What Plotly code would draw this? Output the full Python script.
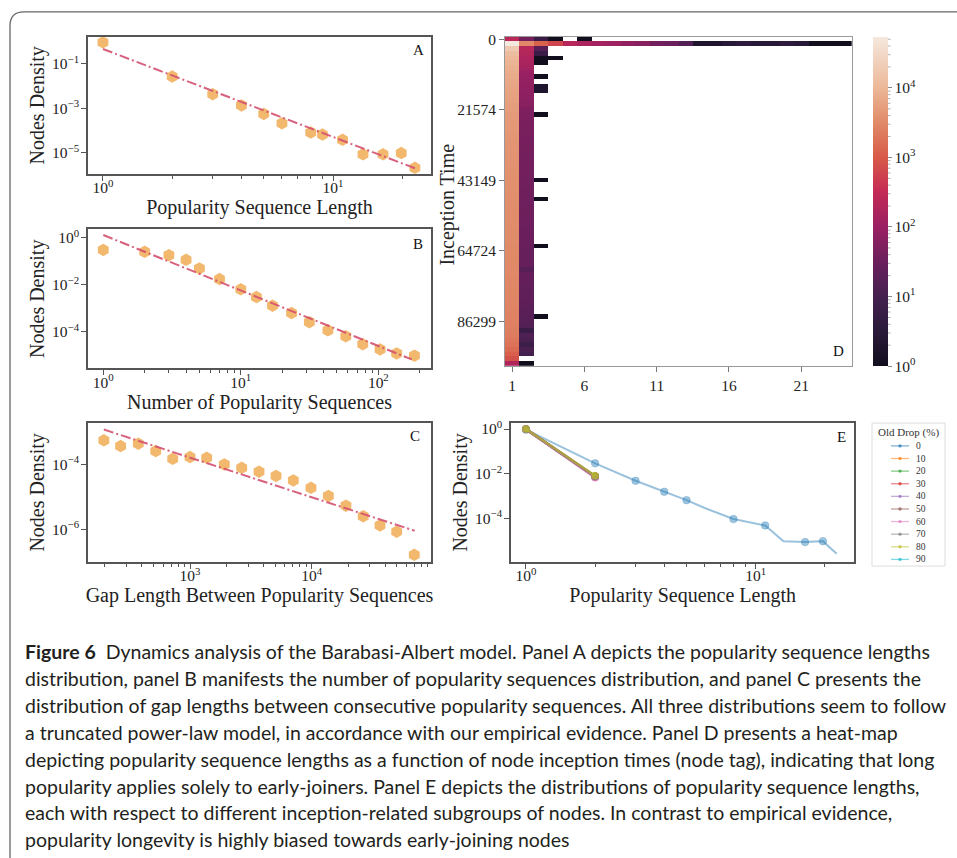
import numpy as np
import plotly.graph_objects as go

W, H = 957, 858
SERIF = "Liberation Serif"
SANS = "Lato"

# ---------------- data ----------------
# Panel A: popularity sequence length distribution
a_length = [1, 2, 3, 4, 5, 6, 8, 9, 11, 13.5, 16.5, 19.8, 22.7]
a_density = [0.93, 0.027, 0.0043, 0.00135, 5.6e-4, 2.1e-4, 8.1e-5, 6.6e-5, 3.8e-5, 8.5e-6, 8.5e-6, 9.7e-6, 2.1e-6]
a_fit_x = [1, 22.7]
a_fit_y = [0.47, 2.0e-6]

# Panel B: number of popularity sequences distribution
b_number = [1, 2, 3, 4, 5, 7, 10, 13, 17, 23.4, 31.5, 43, 58, 77, 103, 136, 183]
b_density = [0.30, 0.25, 0.18, 0.114, 0.049, 0.0175, 0.0064, 0.003, 0.0013, 6.3e-4, 2.6e-4,
             1.17e-4, 6.5e-5, 3.0e-5, 1.8e-5, 1.22e-5, 9.8e-6]
b_fit_x = [1, 175]
b_fit_y = [1.29, 6.8e-6]

# Panel C: gap length between popularity sequences
c_gap = [196, 269, 376, 523, 721, 1000, 1371, 1914, 2660, 3690, 5090, 7060, 9860, 13700,
         19100, 26500, 36400, 49900, 69600]
c_density = [5.6e-4, 3.7e-4, 4.4e-4, 2.6e-4, 1.5e-4, 1.7e-4, 1.6e-4, 1.0e-4, 7.9e-5, 6.0e-5,
             4.4e-5, 3.2e-5, 1.9e-5, 1.06e-5, 5.3e-6, 2.5e-6, 1.3e-6, 8.3e-7, 1.6e-7]
c_fit_x = [196, 70100]
c_fit_y = [1.2e-3, 8.9e-7]

# Panel D: heat-map (rows = inception-time bins, columns = popularity sequence length)
d_columns = list(range(1, 25))
d_row_labels = ["0", "21574", "43149", "64724", "86299"]
d_row_label_pos = [0, 15, 30, 45, 60]
d_col1 = [250, 53000, 18000, 12000, 10000, 9000, 8200, 7600, 7000, 6600,
          6200, 5900, 5600, 5400, 5200, 5000, 4800, 4600, 4500, 4400,
          4300, 4200, 4100, 4000, 3950, 3900, 3850, 3800, 3750, 3700,
          3650, 3600, 3550, 3500, 3480, 3450, 3420, 3400, 3370, 3340,
          3300, 3270, 3240, 3200, 3170, 3140, 3100, 3070, 3040, 3000,
          2970, 2930, 2900, 2860, 2820, 2780, 2740, 2700, 2650, 2600,
          2550, 2450, 2350, 2200, 2000, 1750, 1450, 1100, 800, 180]
d_col2 = [40, 3000, 220, 190, 170, 150, 135, 100, 90, 84,
          80, 76, 72, 68, 64, 52, 50, 48, 46, 45,
          44, 43, 42, 41, 41, 40, 40, 39, 39, 38,
          37, 37, 36, 36, 35, 35, 34, 34, 33, 33,
          32, 31, 31, 30, 30, 29, 28, 28, 27, 18,
          26, 26, 25, 24, 23, 23, 22, 21, 20, 18,
          17, 15, 6, 14, 12, 7, 12, 10, 0, 1]
d_col3_rows = [0, 1, 2, 3, 4, 5, 8, 10, 11, 16, 30, 34, 44, 59]
d_col3_counts = [6, 1200, 18, 6, 1, 1, 1, 2, 2, 1, 1, 1, 1, 1]
d_row0_cols4to6 = [1, 0, 1]
d_row1_cols4to24 = [600, 230, 160, 130, 110, 80, 65, 40, 32, 15, 2, 2, 3, 4, 3, 3, 4, 3, 1, 1, 1]
d_col4_extra_rows = [4]
d_col4_extra_counts = [1]

# Panel E: popularity sequence lengths per "old drop" subgroup
e_drops = ["0", "10", "20", "30", "40", "50", "60", "70", "80", "90"]
e_len0 = [1, 2, 3, 4, 5, 6, 8, 11, 13.2, 16.4, 19.6, 22.5]
e_den0 = [0.93, 0.029, 0.0048, 0.00155, 6.5e-4, 2.9e-4, 9.3e-5, 4.8e-5, 9.5e-6, 8.6e-6, 9.5e-6, 2.6e-6]
e_len_other = [1, 2]
e_den_other = {
    "10": [0.99, 0.0078], "20": [0.99, 0.0077], "30": [0.99, 0.0075], "40": [0.99, 0.0072],
    "50": [0.99, 0.0070], "60": [0.99, 0.0066], "70": [0.99, 0.0074], "80": [1.0, 0.0080],
    "90": [0.99, 0.0076],
}

caption_lines = [
    "<b>Figure 6</b>  Dynamics analysis of the Barabasi-Albert model. Panel A depicts the popularity sequence lengths",
    "distribution, panel B manifests the number of popularity sequences distribution, and panel C presents the",
    "distribution of gap lengths between consecutive popularity sequences. All three distributions seem to follow",
    "a truncated power-law model, in accordance with our empirical evidence. Panel D presents a heat-map",
    "depicting popularity sequence lengths as a function of node inception times (node tag), indicating that long",
    "popularity applies solely to early-joiners. Panel E depicts the distributions of popularity sequence lengths,",
    "each with respect to different inception-related subgroups of nodes. In contrast to empirical evidence,",
    "popularity longevity is highly biased towards early-joining nodes",
]

# ---------------- helpers ----------------
def fx(p):
    return p / W


def fy(p):
    return 1 - p / H


def sup(p):
    return "10<sup>" + ("\u2212" if p < 0 else "") + str(abs(p)) + "</sup>"


def log_ticks(exps):
    return dict(tickmode="array", tickvals=[10.0 ** e for e in exps], ticktext=[sup(e) for e in exps])


def minor_vals(e0, e1):
    vals = []
    for e in range(e0, e1 + 1):
        for m in range(2, 10):
            vals.append(m * 10.0 ** e)
    return vals


AX_COL = "#555555"
TXT = "#222222"


def axis(domain, rng, title=None, standoff=0, **kw):
    d = dict(domain=domain, range=rng, showline=True, linecolor=AX_COL, linewidth=1.5, mirror=True,
             ticks="outside", ticklen=5, tickwidth=1.2, tickcolor=AX_COL, showgrid=False, zeroline=False,
             tickfont=dict(family=SERIF, size=15.5, color=TXT))
    if title:
        d["title"] = dict(text=title, font=dict(family=SERIF, size=20, color=TXT), standoff=standoff)
    d.update(kw)
    return d


ORANGE = "rgba(238,160,60,0.75)"
FIT = "rgba(212,80,112,0.9)"
DASHDOT = "10px,3px,2px,3px"

fig = go.Figure()

# ---- Panels A, B, C ----
for xs, ys, fxs, fys, ax in [
    (a_length, a_density, a_fit_x, a_fit_y, ""),
    (b_number, b_density, b_fit_x, b_fit_y, "2"),
    (c_gap, c_density, c_fit_x, c_fit_y, "3"),
]:
    fig.add_trace(go.Scatter(x=xs, y=ys, mode="markers", xaxis="x" + ax, yaxis="y" + ax,
                             marker=dict(symbol="hexagon", size=12.5, color=ORANGE, line=dict(width=0)),
                             showlegend=False, name="data"))
    fig.add_trace(go.Scatter(x=fxs, y=fys, mode="lines", xaxis="x" + ax, yaxis="y" + ax,
                             line=dict(color=FIT, width=2, dash=DASHDOT), showlegend=False, name="fit"))

# ---- Panel D heatmap ----
n_rows = len(d_col1)
counts = np.zeros((n_rows, len(d_columns)))
counts[:, 0] = d_col1
counts[:, 1] = d_col2
for r, c in zip(d_col3_rows, d_col3_counts):
    counts[r, 2] = c
counts[0, 3:6] = d_row0_cols4to6
counts[1, 3:] = d_row1_cols4to24
for r, c in zip(d_col4_extra_rows, d_col4_extra_counts):
    counts[r, 3] = c
with np.errstate(divide="ignore"):
    zlog = np.where(counts > 0, np.log10(np.where(counts > 0, counts, 1)), np.nan)
zmax = float(np.nanmax(zlog))

# rocket-like palette, as it appears in the printed figure
rocket = [[0.0, "#120e1e"], [0.106, "#2a1a3a"], [0.211, "#44204f"], [0.317, "#6a1f5c"],
          [0.423, "#9a2062"], [0.53, "#c42a55"], [0.634, "#d85a48"], [0.74, "#e08a68"],
          [0.846, "#ecb898"], [1.0, "#f5e8de"]]

fig.add_trace(go.Heatmap(
    x=d_columns, y=list(range(n_rows)), z=zlog.tolist(), xaxis="x4", yaxis="y4",
    colorscale=rocket, zmin=0, zmax=zmax, hoverongaps=False,
    colorbar=dict(x=fx(873), xanchor="left", xpad=0, ypad=0, y=fy(362.7), yanchor="bottom",
                  len=(362.7 - 31.7) / H, lenmode="fraction", thickness=15, outlinewidth=0,
                  tickmode="array", tickvals=list(range(5)), ticktext=[sup(e) for e in range(5)],
                  ticks="outside", ticklen=4, tickwidth=1, tickcolor="#888",
                  tickfont=dict(family=SERIF, size=15.5, color=TXT)),
))

# ---- Panel E ----
tab10 = ["31,119,180", "255,127,14", "44,160,44", "214,39,40", "148,103,189",
         "140,86,75", "227,119,194", "127,127,127", "188,189,34", "23,190,207"]
marker_sizes0 = [0 if x in (6, 13.2, 22.5) else 7.5 for x in e_len0]
fig.add_trace(go.Scatter(x=e_len0, y=e_den0, mode="lines+markers", xaxis="x5", yaxis="y5", name="0",
                         line=dict(color="rgba(%s,0.45)" % tab10[0], width=2),
                         marker=dict(color="rgba(%s,0.6)" % tab10[0], size=marker_sizes0),
                         showlegend=False))
draw_order = ["90", "10", "20", "30", "40", "50", "60", "70", "80"]
for d in draw_order:
    i = e_drops.index(d)
    fig.add_trace(go.Scatter(x=e_len_other, y=e_den_other[d], mode="lines+markers", xaxis="x5", yaxis="y5",
                             name=d, line=dict(color="rgba(%s,0.6)" % tab10[i], width=2.5),
                             marker=dict(color="rgba(%s,0.7)" % tab10[i], size=7.5), showlegend=False))

# ---------------- layout ----------------
xA = [fx(88), fx(431)]
xE = [fx(511), fx(854.3)]
yA = [fy(169), fy(31)]
yB = [fy(365), fy(224.7)]
yC = [fy(560), fy(419.7)]
yD = [fy(362.7), fy(31)]


def xminor(e0, e1):
    return dict(tickmode="array", tickvals=minor_vals(e0, e1), ticks="outside", ticklen=3, tickcolor=AX_COL)


XSO = -6   # x tick labels sit close to the axis
YSO = -1

layout = dict(
    width=W, height=H, margin=dict(l=0, r=0, t=0, b=0),
    paper_bgcolor="white", plot_bgcolor="white",
    xaxis=axis(xA, [-0.065, 1.426], "Popularity Sequence Length", type="log", anchor="y",
               ticklabelstandoff=XSO, minor=xminor(0, 1), **log_ticks([0, 1])),
    yaxis=axis(yA, [-5.95, 0.22], "Nodes Density", type="log", anchor="x", ticklabelstandoff=YSO,
               standoff=2, **log_ticks([-1, -3, -5])),
    xaxis2=axis(xA, [-0.111, 2.383], "Number of Popularity Sequences", type="log", anchor="y2",
                ticklabelstandoff=XSO, minor=xminor(0, 2), **log_ticks([0, 1, 2])),
    yaxis2=axis(yB, [-5.55, 0.36], "Nodes Density", type="log", anchor="x2", ticklabelstandoff=YSO,
                standoff=2, **log_ticks([0, -2, -4])),
    xaxis3=axis(xA, [2.162, 4.98], "Gap Length Between Popularity Sequences", type="log", anchor="y3",
                ticklabelstandoff=XSO, minor=xminor(2, 4), **log_ticks([3, 4])),
    yaxis3=axis(yC, [-7.02, -2.71], "Nodes Density", type="log", anchor="x3", ticklabelstandoff=YSO,
                standoff=2, **log_ticks([-4, -6])),
    xaxis4=axis([fx(505), fx(851.7)], [0.5, 24.5], None, anchor="y4", linecolor="#999", linewidth=1,
                tickcolor="#777", tickmode="array", tickvals=[1, 6, 11, 16, 21],
                ticktext=["1", "6", "11", "16", "21"]),
    yaxis4=axis(yD, [n_rows - 0.5, -0.5], None, anchor="x4", linecolor="#999",
                linewidth=1, tickcolor="#777", tickmode="array", tickvals=d_row_label_pos,
                ticktext=d_row_labels),
    xaxis5=axis(xE, [-0.065, 1.429], "Popularity Sequence Length", type="log", anchor="y5",
                ticklabelstandoff=XSO, minor=xminor(0, 1), **log_ticks([0, 1])),
    yaxis5=axis(yC, [-5.96, 0.28], "Nodes Density", type="log", anchor="x5", ticklabelstandoff=YSO,
                standoff=2, **log_ticks([0, -2, -4])),
)
fig.update_layout(**layout)

annotations = []
for txt, x, y in [("A", 418, 44), ("B", 418, 240), ("C", 415, 433), ("D", 838, 347), ("E", 841, 434)]:
    annotations.append(dict(text=txt, x=fx(x), y=fy(y), xref="paper", yref="paper", showarrow=False,
                            xanchor="center", yanchor="middle", font=dict(family=SERIF, size=15, color="#111")))

# y-axis title of the heat-map
annotations.append(dict(text="Inception Time", x=fx(448), y=fy(200), xref="paper", yref="paper",
                        showarrow=False, textangle=-90, xanchor="center", yanchor="middle",
                        font=dict(family=SERIF, size=20, color=TXT)))

shapes = []
# colorbar minor ticks (log-spaced between decades)
cb_bottom, cb_top = 362.7, 31.7
for e in range(0, 5):
    for m in range(2, 10):
        v = e + np.log10(m)
        if v <= zmax:
            yy = cb_bottom - (cb_bottom - cb_top) * v / zmax
            shapes.append(dict(type="line", xref="paper", yref="paper", x0=fx(888), x1=fx(890.5),
                               y0=fy(yy), y1=fy(yy), line=dict(color="#999", width=0.8)))

# manual legend for panel E
lg_left, lg_right, lg_top, lg_bot = 872, 945, 420, 564
shapes.append(dict(type="rect", xref="paper", yref="paper", x0=fx(lg_left), x1=fx(lg_right),
                   y0=fy(lg_bot), y1=fy(lg_top), line=dict(color="#dddddd", width=1), fillcolor="white"))
annotations.append(dict(text="Old Drop (%)", x=fx(908.5), y=fy(430), xref="paper", yref="paper",
                        showarrow=False, xanchor="center", yanchor="middle",
                        font=dict(family=SERIF, size=11, color="#333")))
for i, d in enumerate(e_drops):
    yy = 443 + i * 12.7
    shapes.append(dict(type="line", xref="paper", yref="paper", x0=fx(891), x1=fx(909), y0=fy(yy), y1=fy(yy),
                       line=dict(color="rgba(%s,0.55)" % tab10[i], width=1.3)))
    shapes.append(dict(type="circle", xref="paper", yref="paper", x0=fx(898.3), x1=fx(901.7),
                       y0=fy(yy + 1.7), y1=fy(yy - 1.7), line=dict(width=0),
                       fillcolor="rgba(%s,0.7)" % tab10[i]))
    annotations.append(dict(text=d, x=fx(914), y=fy(yy), xref="paper", yref="paper", showarrow=False,
                            xanchor="left", yanchor="middle", font=dict(family=SERIF, size=9.5, color="#333")))

# outer frame
frame = "M %f %f L %f %f Q %f %f %f %f L %f %f" % (
    fx(10), fy(862), fx(10), fy(20), fx(10), fy(6), fx(24), fy(6), fx(960), fy(6))
shapes.append(dict(type="path", path=frame, xref="paper", yref="paper", line=dict(color="#666", width=1.3)))

# caption
for i, line in enumerate(caption_lines):
    annotations.append(dict(text=line, x=fx(23), y=fy(650 + i * 27.1), xref="paper", yref="paper",
                            showarrow=False, xanchor="left", yanchor="middle",
                            font=dict(family=SANS, size=19.5, color="#231f20")))

fig.update_layout(annotations=annotations, shapes=shapes)
fig.write_html("out.html", config={"displayModeBar": False},
               post_script="document.body.style.margin='0px';document.body.style.overflow='hidden';")
